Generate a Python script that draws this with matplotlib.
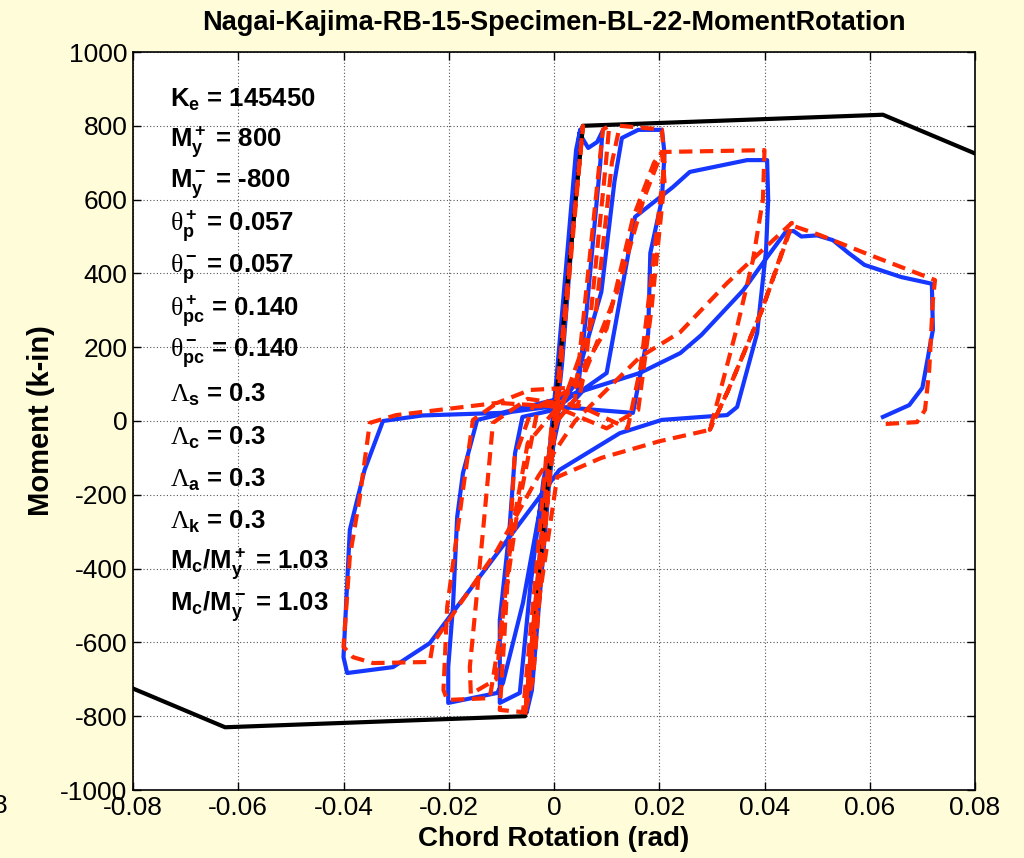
import numpy as np
import matplotlib
matplotlib.use('Agg')
import matplotlib.pyplot as plt

plt.rcParams['font.family'] = ['Liberation Sans', 'DejaVu Sans']
plt.rcParams['axes.unicode_minus'] = False
plt.rcParams['mathtext.fontset'] = 'custom'
plt.rcParams['mathtext.rm'] = 'Liberation Sans:bold'
plt.rcParams['mathtext.bf'] = 'Liberation Sans:bold'
plt.rcParams['mathtext.it'] = 'Liberation Serif'
plt.rcParams['mathtext.sf'] = 'Liberation Serif'
plt.rcParams['mathtext.default'] = 'rm'

# backbone (model envelope)
bb_rot = [-0.08, -0.0625, -0.0055, 0.0055, 0.0625, 0.08]
bb_mom = [-725, -830, -800, 800, 830, 725]

# experimental test data (blue)
test_rot = [0, 0.0045, 0.0050, 0.0042, 0.0005, -0.002, -0.0045, -0.0052, -0.0042, -0.001, 0.0015, 0.004, 0.0048,
            0.0065, 0.0082, 0.0092, 0.0088, 0.0062, 0.0045, 0.0, -0.006, -0.0074, -0.0085, -0.0103, -0.0103, -0.0065,
            -0.0045, -0.002, 0.001,
            0.004, 0.009, 0.0115, 0.0129, 0.016, 0.0205, 0.021, 0.0205, 0.0183, 0.0179, 0.015, 0.008, 0.0, -0.008,
            -0.0146, -0.0173, -0.0184, -0.0192, -0.0201, -0.0201, -0.0108, -0.0097, -0.0059, -0.002, 0.001,
            0.006, 0.010, 0.0154, 0.0226, 0.0258, 0.0367, 0.0405, 0.0407, 0.0403, 0.0386, 0.0348, 0.0329, 0.0205,
            0.0125, 0.001, -0.0027, -0.0236, -0.0306, -0.0393, -0.040, -0.0388, -0.036, -0.0325, -0.025, -0.01, 0.0,
            0.0163, 0.024, 0.028, 0.036, 0.0405, 0.044, 0.0455, 0.047, 0.050, 0.053, 0.056, 0.059, 0.066, 0.0718,
            0.072, 0.070, 0.0675, 0.0625]
test_mom = [0, 680, 790, 735, 120, -250, -660, -790, -730, -180, 150, 600, 780,
            740, 756, 785, 700, 300, 80, 30, 11, -87, -300, -539, -764, -737,
            -450, -160, 40,
            100, 350, 650, 767, 789, 789, 726, 600, 455, 238, 22, 30, 40, 25,
            3, -141, -260, -504, -667, -764, -737, -710, -493, -187, 10,
            90, 130, 553, 634, 675, 707, 707, 600, 463, 238, 38, 16, 3,
            -33, -133, -205, -602, -667, -683, -640, -295, -133, 0, 15, 22, 57,
            130, 184, 233, 355, 444, 512, 515, 500, 503, 490, 455, 423, 390, 372,
            247, 90, 43, 11]

# model prediction (red dashed)
model_rot = [0, 0.0055, 0.0050, 0.0005, -0.0055, -0.0050, -0.0005,
             0.004, 0.0093, 0.0105, 0.0098, 0.006, 0.0045, -0.004, -0.0075, -0.0095, -0.0103, -0.0059, -0.004,
             -0.0015, 0.002,
             0.008, 0.011, 0.0125, 0.0205, 0.021, 0.019, 0.0165, 0.014, 0.005, -0.005, -0.0116, -0.0135, -0.016,
             -0.0158, -0.011, -0.008, -0.005, 0.002, 0.010, 0.015, 0.019, 0.0205, 0.021, 0.0185, 0.016, 0.010,
             0.0, -0.0108, -0.0154, -0.0173, -0.0203, -0.021, -0.0203, -0.0122, -0.0105, -0.007, -0.003, 0.005,
             0.012, 0.017, 0.0205, 0.040, 0.0397, 0.0378, 0.0348, 0.0315, 0.0296, 0.020, 0.009, 0.0006, -0.003,
             -0.0055, -0.004, 0.0, 0.003, -0.0046, -0.0108, -0.030, -0.035, -0.0369, -0.0388, -0.040, -0.0382,
             -0.0344, -0.0236, -0.023, -0.0108, -0.003, 0.004, 0.0163, 0.024, 0.0329, 0.039, 0.0452, 0.0395,
             0.033, 0.0296, 0.033, 0.0395, 0.0452, 0.0505, 0.060, 0.0724, 0.072, 0.0713, 0.0705, 0.069, 0.063]
model_mom = [0, 800, 720, 20, -800, -720, -20,
             60, 790, 800, 690, 150, 40, 40, -100, -600, -783, -789, -500,
             -100, 60,
             300, 700, 800, 790, 700, 450, 150, -20, 40, 60, -5, -300, -667,
             -740, -700, -300, -60, 60, 250, 550, 700, 729, 650, 300, 30, -20,
             40, 49, 3, -187, -504, -729, -756, -751, -600, -250, 40, 100,
             350, 600, 729, 734, 600, 436, 255, 76, -24, -55, -100, -152, -500,
             -790, -700, 0, 90, 84, 49, 16, -5, -206, -368, -612, -640,
             -656, -653, -602, -350, -150, 0, 173, 241, 374, 455, 537, 300,
             80, -24, 80, 300, 530, 504, 450, 382, 328, 138, 30, -3, -8]

x_ticks = [-0.08, -0.06, -0.04, -0.02, 0, 0.02, 0.04, 0.06, 0.08]
x_ticklabels = ['-0.08', '-0.06', '-0.04', '-0.02', '0', '0.02', '0.04', '0.06', '0.08']
y_ticks = [-1000, -800, -600, -400, -200, 0, 200, 400, 600, 800, 1000]

params = [r'$\mathrm{K_e}$ = 145450',
          r'$\mathrm{M_y^+}$ = 800',
          r'$\mathrm{M_y^-}$ = -800',
          r'$\mathsf{\theta}_\mathrm{p}^+$ = 0.057',
          r'$\mathsf{\theta}_\mathrm{p}^-$ = 0.057',
          r'$\mathsf{\theta}_\mathrm{pc}^+$ = 0.140',
          r'$\mathsf{\theta}_\mathrm{pc}^-$ = 0.140',
          r'$\mathsf{\Lambda}_\mathrm{s}$ = 0.3',
          r'$\mathsf{\Lambda}_\mathrm{c}$ = 0.3',
          r'$\mathsf{\Lambda}_\mathrm{a}$ = 0.3',
          r'$\mathsf{\Lambda}_\mathrm{k}$ = 0.3',
          r'$\mathrm{M_c/M_y^+}$ = 1.03',
          r'$\mathrm{M_c/M_y^-}$ = 1.03']

fig = plt.figure(figsize=(10.24, 8.58), dpi=100, facecolor='#fffcd9')
ax = fig.add_axes([133/1024, 1-790/858, (975-133)/1024, (790-52)/858])
ax.set_facecolor('white')

ax.plot(test_rot, test_mom, color='#1537ff', lw=3.0, zorder=2, solid_joinstyle='round')
ax.plot(bb_rot, bb_mom, color='black', lw=3.0, zorder=3)
ax.plot(model_rot, model_mom, color='#ff2a00', lw=3.0, ls=(0, (3.2, 1.8)), zorder=4)

ax.set_xlim(-0.08, 0.08)
ax.set_ylim(-1000, 1000)
ax.set_xticks(x_ticks)
ax.set_xticklabels(x_ticklabels)
ax.set_yticks(y_ticks)
ax.tick_params(direction='in', length=6, width=1, top=True, right=True, labelsize=19, pad=4)
ax.grid(True, color='#555555', ls=(0, (1, 2)), lw=0.8)
for s in ax.spines.values():
    s.set_linewidth(1.2)

ax.set_title('Nagai-Kajima-RB-15-Specimen-BL-22-MomentRotation', fontsize=19.5, fontweight='bold', pad=16)
ax.set_xlabel('Chord Rotation (rad)', fontsize=20, fontweight='bold', labelpad=5)
ax.set_ylabel('Moment (k-in)', fontsize=21, fontweight='bold', labelpad=4)

y0 = 100
for i, s in enumerate(params):
    fig.text(170/1024, 1 - (y0 + i*42.2)/858, s, fontsize=18.5, fontweight='bold', va='center', ha='left')

fig.text(0.0, 1 - 806/858, '8', fontsize=19, ha='center', va='center')

fig.savefig('out.png', dpi=100, facecolor=fig.get_facecolor())
